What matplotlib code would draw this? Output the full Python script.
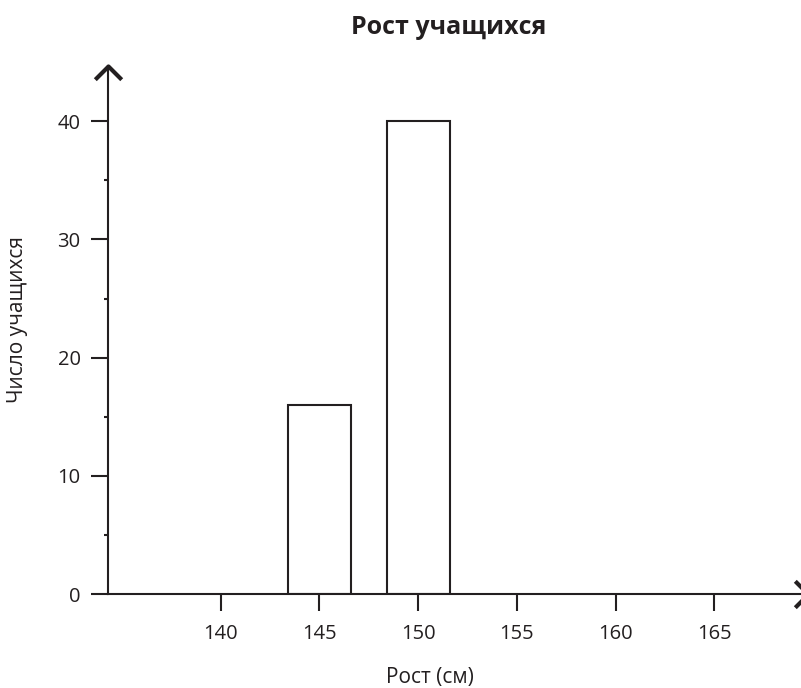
import matplotlib.pyplot as plt
from matplotlib.markers import MarkerStyle
from matplotlib.path import Path

# data
heights = [145, 150]
counts = [16, 40]
x_ticks = [140, 145, 150, 155, 160, 165]
y_major = [0, 10, 20, 30, 40]
y_minor = [5, 15, 25, 35]

ink = '#231f20'
plt.rcParams['font.family'] = ['Open Sans', 'DejaVu Sans']
plt.rcParams['text.color'] = ink

fig = plt.figure(figsize=(8.01, 6.88), dpi=100)
ax = fig.add_axes([0.1345, 0.1362, 0.8743, 0.7679])

ax.bar(heights, counts, width=3.2, color='white', edgecolor=ink, linewidth=1.5, zorder=2)

ax.set_xlim(134.28, 169.75)
ax.set_ylim(0, 44.66)

ax.set_xticks(x_ticks)
ax.set_yticks(y_major)
ax.set_yticks(y_minor, minor=True)
ax.tick_params(axis='both', which='major', direction='out', length=12.5, width=1.5,
               color=ink, labelcolor=ink, labelsize=14.5)
ax.tick_params(axis='x', which='major', pad=9)
ax.tick_params(axis='y', which='major', pad=7)
ax.tick_params(axis='y', which='minor', direction='out', length=3, width=1.5, color=ink)

for s in ['top', 'right']:
    ax.spines[s].set_visible(False)
for s in ['left', 'bottom']:
    ax.spines[s].set_color(ink)
    ax.spines[s].set_linewidth(1.5)
    ax.spines[s].set_clip_on(False)

# arrow heads (open chevrons)
up = Path([(-1, -1), (0, 0), (1, -1)], [Path.MOVETO, Path.LINETO, Path.LINETO])
right = Path([(-1, 1), (0, 0), (-1, -1)], [Path.MOVETO, Path.LINETO, Path.LINETO])
ax.plot([0], [1], transform=ax.transAxes, marker=MarkerStyle(up, joinstyle='miter'),
        markersize=19, mfc='none', mec=ink, mew=3, clip_on=False, zorder=5)
ax.plot([1], [0], transform=ax.transAxes, marker=MarkerStyle(right, joinstyle='miter'),
        markersize=19, mfc='none', mec=ink, mew=3, clip_on=False, zorder=5)

fig.text(449 / 801, 1 - 27 / 688, 'Рост учащихся', ha='center', va='center',
         fontsize=18, fontweight='bold')
fig.text(430 / 801, 1 - 677 / 688, 'Рост (см)', ha='center', va='center', fontsize=15)
fig.text(18 / 801, 1 - 320 / 688, 'Число учащихся', ha='center', va='center',
         rotation=90, fontsize=15)

plt.savefig('out.png', dpi=100)
